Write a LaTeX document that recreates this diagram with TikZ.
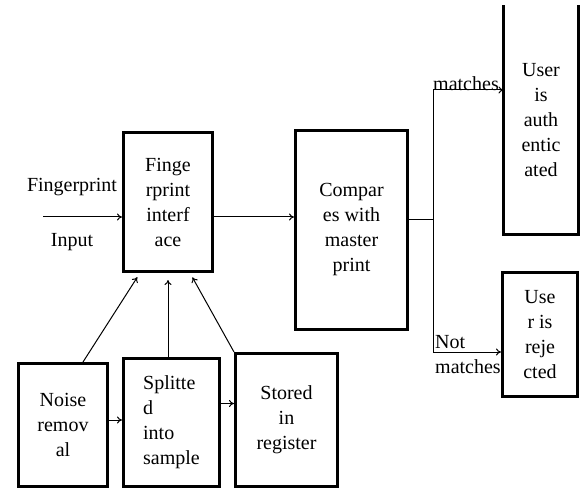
\documentclass[tikz,border=0pt]{standalone}
\usepackage{fontspec}
\setmainfont{Liberation Serif}
\usetikzlibrary{arrows.meta}
\begin{document}
\begin{tikzpicture}[x=1pt,y=-1pt,
  txt/.style={inner sep=0pt, font=\fontsize{20}{25}\selectfont},
  box/.style={txt, draw, line width=3pt, align=center},
  arr/.style={line width=1pt, -{To[length=5pt,width=7pt]}},
  ln/.style={line width=1pt}]
\useasboundingbox (0,0) rectangle (581,489);
% boxes
\node[box, minimum width=89pt, minimum height=139pt] (iface) at (168,202) {Finge\\rprint\\interf\\ace};
\node[box, minimum width=112pt, minimum height=199pt] (comp) at (351.5,230) {Compar\\es with\\master\\print};
\node[box, draw=none, minimum width=72pt, minimum height=226pt] (auth) at (541,120) {User\\is\\auth\\entic\\ated};
\draw[line width=3pt] (auth.north west) -- (auth.south west) -- (auth.south east) -- (auth.north east);
\node[box, minimum width=75pt, minimum height=124pt] (rej) at (540,334.5) {Use\\r is\\reje\\cted};
\node[box, minimum width=89pt, minimum height=123pt] (noise) at (63,425) {Noise\\remov\\al};
\node[box, align=left, minimum width=96pt, minimum height=128pt] (split) at (171.5,422.5) {Splitte\\d\\into\\sample};
\node[box, minimum width=102pt, minimum height=133pt] (stored) at (286.5,420) {Stored\\in\\register};
% labels
\node[txt] (fp) at (72,187) {Fingerprint};
\node[txt] (inp) at (72,242) {Input};
\node[txt, anchor=base] (mt) at (466,91) {matches};
\node[txt, anchor=base west] (nt) at (435,348) {Not};
\node[txt, anchor=base west] (nm) at (435,373) {matches};
% coordinates
\coordinate (in) at (43,217);
\coordinate (j) at (433,220);
\coordinate (jt) at (433,90);
\coordinate (jb) at (433,352);
% connectors
\draw[arr] (in) -- (in -| iface.west);
\draw[arr] (iface.east |- in) -- (comp.west |- in);
\draw[ln] (comp.east |- j) -- (j);
\draw[arr] (j) |- (auth.west |- jt);
\draw[arr] (j) |- (rej.west |- jb);
\draw[arr] ([yshift=5pt]noise.east) -- ([yshift=5pt]noise.east -| split.west);
\draw[arr] ([yshift=19pt]split.east) -- ([yshift=19pt]split.east -| stored.west);
\draw[arr, shorten >=5pt] ([xshift=20pt]noise.north) -- ([xshift=-28pt]iface.south);
\draw[arr, shorten >=7pt] (iface.south |- split.north) -- (iface.south);
\draw[arr, shorten >=5pt] (stored.north west) -- ([xshift=22pt]iface.south);
\end{tikzpicture}
\end{document}
